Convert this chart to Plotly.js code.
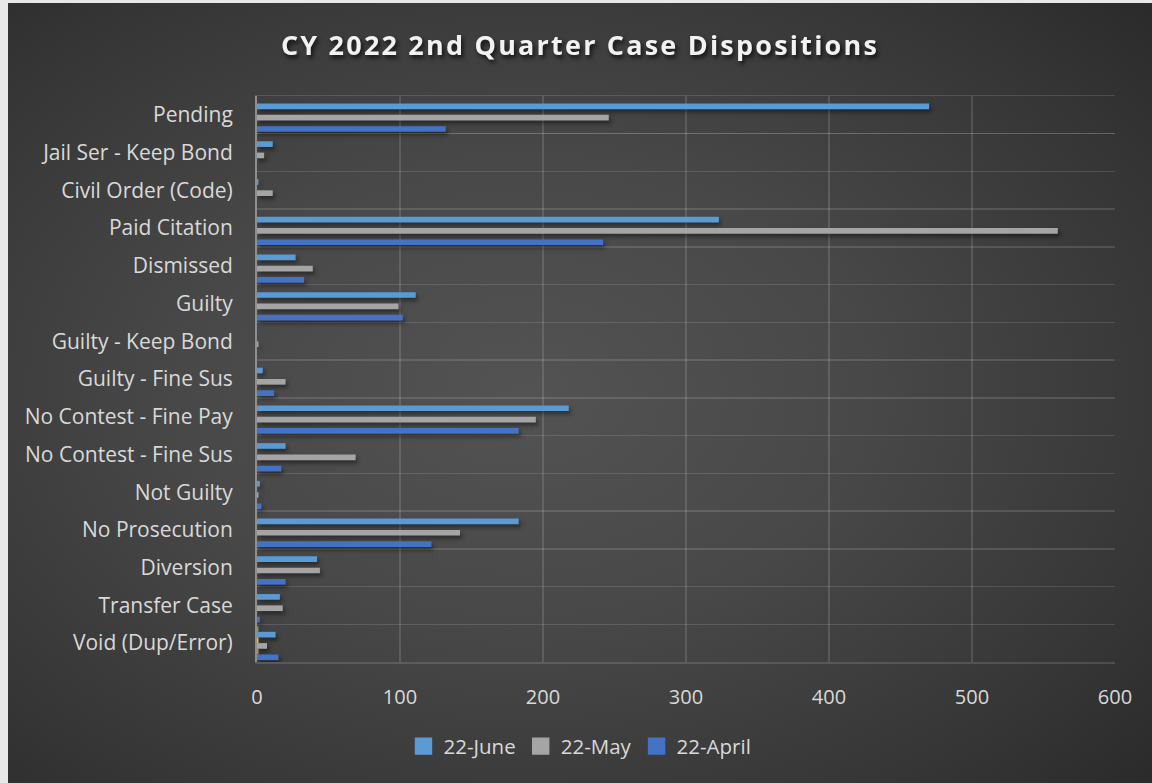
<!DOCTYPE html>
<html>
<head>
<meta charset="utf-8">
<script src="https://cdn.plot.ly/plotly-3.0.1.min.js"></script>
<style>
  html, body { margin: 0; padding: 0; background: #e8e8e8; width: 1152px; height: 783px; overflow: hidden; }
  #chart {
    position: absolute; left: 8px; top: 3px; width: 1144px; height: 780px;
    background: radial-gradient(ellipse 75% 75% at 45% 50%, #535353 0%, #484848 40%, #353535 80%, #2a2a2a 100%);
  }
  .gtitle { letter-spacing: 2.2px; filter: drop-shadow(2px 3px 2px rgba(0,0,0,0.7)); }
  .trace.bars .point path { filter: drop-shadow(2px 3px 2px rgba(0,0,0,0.45)); }
</style>
</head>
<body>
<div id="chart"></div>
<script>
const categories = ["Pending", "Jail Ser - Keep Bond", "Civil Order (Code)", "Paid Citation", "Dismissed",
  "Guilty", "Guilty - Keep Bond", "Guilty - Fine Sus", "No Contest - Fine Pay", "No Contest - Fine Sus",
  "Not Guilty", "No Prosecution", "Diversion", "Transfer Case", "Void (Dup/Error)"];
const june  = [470, 11, 1, 323, 27, 111, 0, 4, 218, 20, 2, 183, 42, 16, 13];
const may   = [246, 5, 11, 560, 39, 99, 1, 20, 195, 69, 1, 142, 44, 18, 7];
const april = [132, 0, 0, 242, 33, 102, 0, 12, 183, 17, 3, 122, 20, 2, 15];
const extraGreen  = [0, 0, 0, 0, 0, 0, 0, 0, 0, 0, 0, 0, 0, 0, 1];
const extraYellow = [0, 0, 0, 0, 0, 0, 0, 0, 0, 0, 0, 0, 0, 0, 1];
const extraOrange = [0, 0, 0, 0, 0, 0, 0, 0, 0, 0, 0, 0, 0, 0, 1];
const xTicks = [0, 100, 200, 300, 400, 500, 600];

const textColor = "#d9d9d9";
const gridColor = "rgba(255,255,255,0.13)";

function bar(name, vals, color, legend) {
  return { type: "bar", orientation: "h", name: name, y: categories, x: vals,
    marker: { color: color, line: { color: color, width: 0 } },
    showlegend: legend, hoverinfo: legend ? "x+y+name" : "skip" };
}

const data = [
  bar("Series 6", extraGreen, "#70AD47", false),
  bar("22-June", june, "#5B9BD5", true),
  bar("Series 4", extraYellow, "#FFC000", false),
  bar("22-May", may, "#A5A5A5", true),
  bar("Series 2", extraOrange, "#ED7D31", false),
  bar("22-April", april, "#4472C4", true)
];

const layout = {
  width: 1144, height: 780,
  paper_bgcolor: "rgba(0,0,0,0)", plot_bgcolor: "rgba(0,0,0,0)",
  margin: { l: 249, r: 37, t: 93, b: 121 },
  barmode: "group", bargap: 0.1, bargroupgap: 0.0,
  font: { family: "Open Sans, sans-serif", color: textColor, size: 20 },
  title: { text: "<b>CY 2022 2nd Quarter Case Dispositions</b>", x: 0.5, xanchor: "center",
    y: 0.945, yanchor: "middle", yref: "container",
    font: { family: "Open Sans, sans-serif", size: 27, color: "#f2f2f2" } },
  xaxis: { range: [0, 600], tickvals: xTicks, ticktext: xTicks.map(String),
    showgrid: true, gridcolor: gridColor, gridwidth: 1.5, zeroline: false,
    showline: true, mirror: true, linecolor: gridColor, linewidth: 1.5,
    ticks: "", ticklabelstandoff: 16, tickfont: { size: 20, color: textColor }, fixedrange: true },
  yaxis: { type: "category", autorange: "reversed", tickson: "boundaries",
    showgrid: true, gridcolor: gridColor, gridwidth: 1.5, ticks: "",
    showline: true, linecolor: "#8e8e8e", linewidth: 2,
    ticklabelstandoff: 18, tickfont: { size: 21, color: textColor }, fixedrange: true },
  legend: { orientation: "h", xref: "container", x: 0.5, xanchor: "center",
    yref: "container", y: 0.047, yanchor: "middle",
    font: { size: 20.5, color: textColor }, itemwidth: 30, traceorder: "normal" },
  showlegend: true
};

Plotly.newPlot("chart", data, layout, { displayModeBar: false, staticPlot: true }).then(function () {
  document.querySelectorAll(".legend .legendpoints path").forEach(function (p) {
    const t = p.getAttribute("transform") || "";
    p.setAttribute("transform", t + " scale(1.45)");
  });
});
</script>
</body>
</html>
